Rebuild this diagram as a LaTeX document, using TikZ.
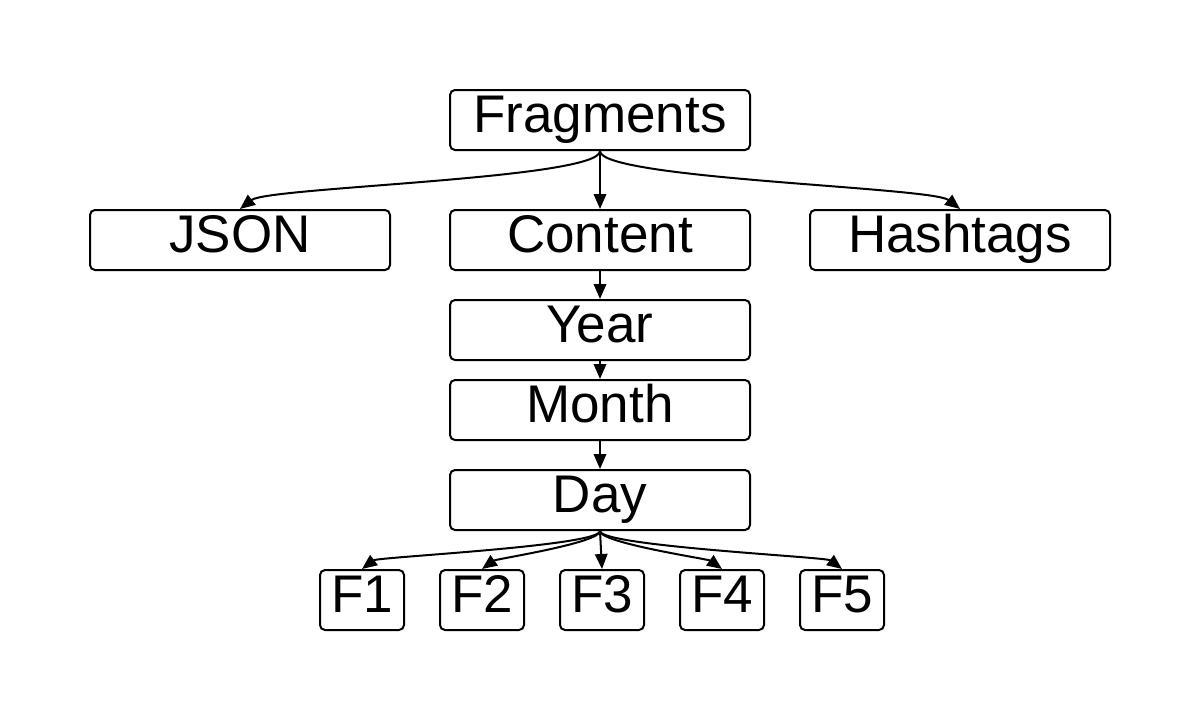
\documentclass[tikz,border=0pt]{standalone}
\usepackage{fontspec}
\setmainfont{Liberation Sans}
\usetikzlibrary{arrows.meta}
\begin{document}
\begin{tikzpicture}[x=1pt,y=-1pt,
  box/.style={draw=black,line width=2pt,rounded corners=5pt,fill=white,
    minimum height=60pt,inner sep=0pt,text height=36pt,text depth=12pt,
    font=\fontsize{53}{60}\selectfont},
  wide/.style={box,minimum width=300pt},
  small/.style={box,minimum width=84pt},
  conn/.style={line width=2pt,-{Triangle[length=15pt,width=12.5pt]}}]
\useasboundingbox[fill=white] (0,0) rectangle (1200,720);
\node[wide] (frag) at (600,120) {Fragments};
\node[wide] (json) at (240,240) {JSON};
\node[wide] (content) at (600,240) {Content};
\node[wide] (hash) at (960,240) {Hashtags};
\node[wide] (year) at (600,330) {Year};
\node[wide] (month) at (600,410) {Month};
\node[wide] (day) at (600,500) {Day};
\node[small] (f1) at (362,600) {F1};
\node[small] (f2) at (482,600) {F2};
\node[small] (f3) at (602,600) {F3};
\node[small] (f4) at (722,600) {F4};
\node[small] (f5) at (842,600) {F5};
\draw[conn] (frag.south) .. controls +(0,28) and +(28,-22) .. (json.north);
\draw[conn] (frag.south) -- (content.north);
\draw[conn] (frag.south) .. controls +(0,28) and +(-28,-22) .. (hash.north);
\draw[conn] (content.south) -- (year.north);
\draw[conn] (year.south) -- (month.north);
\draw[conn] (month.south) -- (day.north);
\draw[conn] (day.south) .. controls +(0,15) and +(16,-12) .. (f1.north);
\draw[conn] (day.south) .. controls +(0,12) and +(14,-10) .. (f2.north);
\draw[conn] (day.south) -- (f3.north);
\draw[conn] (day.south) .. controls +(0,12) and +(-14,-10) .. (f4.north);
\draw[conn] (day.south) .. controls +(0,15) and +(-16,-12) .. (f5.north);
\end{tikzpicture}
\end{document}
